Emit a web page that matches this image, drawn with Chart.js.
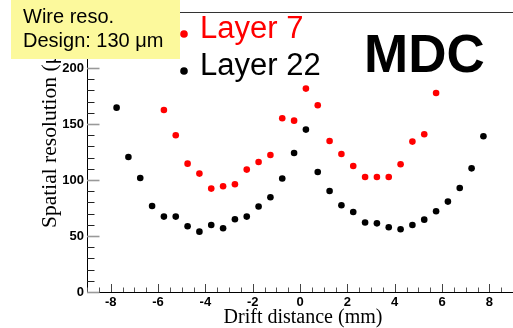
<!DOCTYPE html>
<html><head><meta charset="utf-8">
<script src="https://cdn.jsdelivr.net/npm/chart.js@4"></script>
<style>
html,body{margin:0;padding:0;overflow:hidden;background:#fff;width:513px;height:328px}
canvas{position:absolute;left:0;top:0}
</style></head>
<body>
<canvas id="c" width="517" height="328"></canvas>
<script>
// ---- data ----
const layer22X = [-7.75,-7.25,-6.75,-6.25,-5.75,-5.25,-4.75,-4.25,-3.75,-3.25,-2.75,-2.25,-1.75,-1.25,-0.75,-0.25,0.25,0.75,1.25,1.75,2.25,2.75,3.25,3.75,4.25,4.75,5.25,5.75,6.25,6.75,7.25,7.75];
const layer22Y = [164.6,120.5,101.8,76.8,67.3,67.3,58.7,53.9,59.8,56.9,64.9,67.3,76.3,84.6,101.3,124.1,145.0,107.1,90.2,77.4,71.4,62.0,61.3,57.8,56.0,59.8,64.6,72.1,80.7,92.9,110.4,139.0];
const layer7X = [-5.75,-5.25,-4.75,-4.25,-3.75,-3.25,-2.75,-2.25,-1.75,-1.25,-0.75,-0.25,0.25,0.75,1.25,1.75,2.25,2.75,3.25,3.75,4.25,4.75,5.25,5.75];
const layer7Y = [162.5,139.9,114.6,105.7,92.3,94.4,96.2,109.3,116.1,122.3,155.1,153.0,181.6,166.7,134.8,123.2,112.5,102.7,102.7,102.7,114.0,134.3,140.8,177.7];
const xTickValues = [-8,-6,-4,-2,0,2,4,6,8];
const yTickValues = [0,50,100,150,200];
const xRange = [-9, 9];
const yRange = [0, 250];
const seriesNames = ["Layer 7", "Layer 22"];
const seriesColors = ["#ff0000", "#000000"];
const xTitle = "Drift distance (mm)";
const yTitle = "Spatial resolution (\u03bcm)";
const noteLines = ["Wire reso.", "Design: 130 \u03bcm"];
const bigLabel = "MDC";

const toPts = (xs, ys) => xs.map((x, i) => ({x: x, y: ys[i]}));

const decor = {
  id: 'decor',
  afterDraw(chart) {
    const ctx = chart.ctx, a = chart.chartArea;
    const xs = chart.scales.x, ys = chart.scales.y;
    ctx.save();
    // top frame line
    ctx.strokeStyle = '#333'; ctx.lineWidth = 1;
    ctx.beginPath(); ctx.moveTo(a.left, a.top + 0.5); ctx.lineTo(a.right, a.top + 0.5); ctx.stroke();
    // x ticks (inward)
    for (let v = xRange[0]; v <= xRange[1] + 1e-9; v += 0.5) {
      const px = Math.round(xs.getPixelForValue(v)) + 0.5;
      const major = Math.abs(v % 2) < 1e-9;
      ctx.strokeStyle = major ? '#444' : '#555';
      ctx.beginPath(); ctx.moveTo(px, a.bottom); ctx.lineTo(px, a.bottom - (major ? 8 : 4.5)); ctx.stroke();
    }
    // y ticks (inward)
    for (let v = yRange[0]; v <= yRange[1] + 1e-9; v += 10) {
      const py = Math.round(ys.getPixelForValue(v)) + 0.5;
      const major = Math.abs(v % 50) < 1e-9;
      ctx.strokeStyle = major ? '#999' : '#222';
      ctx.lineWidth = major ? 1.6 : 1;
      ctx.beginPath(); ctx.moveTo(a.left, py); ctx.lineTo(a.left + (major ? 12.5 : 7.5), py); ctx.stroke();
    }
    ctx.lineWidth = 1;
    // axis titles
    ctx.fillStyle = '#000';
    ctx.font = '20px "Liberation Serif", "Times New Roman", serif';
    ctx.textAlign = 'center'; ctx.textBaseline = 'alphabetic';
    ctx.fillText(xTitle, 303, 323);
    ctx.save();
    ctx.font = '21.5px "Liberation Serif", "Times New Roman", serif';
    ctx.translate(55.5, 228); ctx.rotate(-Math.PI / 2);
    ctx.textAlign = 'left';
    ctx.fillText(yTitle, 0, 0);
    ctx.restore();
    // legend
    ctx.font = '31px "Liberation Sans", Arial, sans-serif';
    ctx.textAlign = 'left';
    const legY = [38, 75], dotY = [34, 71];
    seriesNames.forEach((n, i) => {
      ctx.fillStyle = seriesColors[i];
      ctx.beginPath(); ctx.arc(184, dotY[i], 3.8, 0, Math.PI * 2); ctx.fill();
      ctx.fillText(n, 200, legY[i]);
    });
    // MDC label
    ctx.fillStyle = '#000';
    ctx.font = 'bold 53px "Liberation Sans", Arial, sans-serif';
    ctx.fillText(bigLabel, 364, 72);
    // yellow note box
    ctx.fillStyle = '#fcf99c';
    ctx.fillRect(11, 0, 169, 59);
    ctx.fillStyle = '#000';
    ctx.font = '20px "Liberation Sans", Arial, sans-serif';
    ctx.fillText(noteLines[0], 23, 23);
    ctx.fillText(noteLines[1], 23, 47);
    ctx.restore();
  }
};

const tickFont = {family: '"Liberation Sans", Arial', size: 13, weight: 'bold'};

new Chart(document.getElementById('c'), {
  type: 'scatter',
  data: {
    datasets: [
      {label: seriesNames[0], data: toPts(layer7X, layer7Y), backgroundColor: seriesColors[0], borderWidth: 0, pointRadius: 3.3},
      {label: seriesNames[1], data: toPts(layer22X, layer22Y), backgroundColor: seriesColors[1], borderWidth: 0, pointRadius: 3.3}
    ]
  },
  options: {
    responsive: false, animation: false, devicePixelRatio: 1,
    layout: {padding: {left: 0, right: 0, top: 12, bottom: 0}},
    plugins: {legend: {display: false}, tooltip: {enabled: false}},
    scales: {
      x: {
        type: 'linear', min: xRange[0], max: xRange[1],
        grid: {display: false, drawTicks: false, tickLength: 0},
        border: {display: true, color: '#000', width: 1},
        afterBuildTicks: s => { s.ticks = xTickValues.map(v => ({value: v})); },
        afterFit: s => { s.height = 36; },
        ticks: {color: '#000', font: tickFont, padding: 3, maxRotation: 0, autoSkip: false}
      },
      y: {
        type: 'linear', min: yRange[0], max: yRange[1],
        grid: {display: false, drawTicks: false, tickLength: 0},
        border: {display: true, color: '#000', width: 1},
        afterBuildTicks: s => { s.ticks = yTickValues.map(v => ({value: v})); },
        afterFit: s => { s.width = 87; },
        ticks: {color: '#000', font: tickFont, padding: 3, autoSkip: false}
      }
    }
  },
  plugins: [decor]
});
</script>
</body></html>
